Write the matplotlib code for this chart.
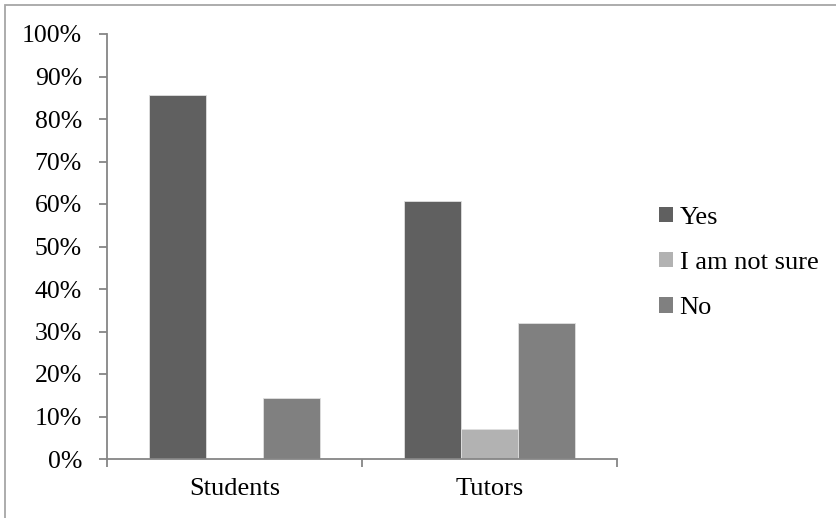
import matplotlib
matplotlib.use("Agg")
import matplotlib.pyplot as plt
import numpy as np
from matplotlib.patches import Rectangle

categories = ["Students", "Tutors"]
series_names = ["Yes", "I am not sure", "No"]
yes_vals = [0.857, 0.607]
notsure_vals = [0.0, 0.071]
no_vals = [0.143, 0.321]
colors = ["#606060", "#B2B2B2", "#808080"]
yticks = [0.0, 0.1, 0.2, 0.3, 0.4, 0.5, 0.6, 0.7, 0.8, 0.9, 1.0]

plt.rcParams['font.family'] = ['Liberation Serif', 'DejaVu Serif']

W, H = 836, 518
fig = plt.figure(figsize=(W / 100, H / 100), dpi=100)
ax = fig.add_axes([107 / W, 1 - 459 / H, (617 - 107) / W, (459 - 34) / H])

# outer border (left and top visible)
fig.patches.append(Rectangle((5 / W, -0.05), 1.1, 1 - 5 / H + 0.05, transform=fig.transFigure,
                             fill=False, edgecolor="#A6A6A6", linewidth=1.3))

x = np.arange(len(categories))
bw = 57 / 255
all_vals = [yes_vals, notsure_vals, no_vals]
for i, (vals, name, c) in enumerate(zip(all_vals, series_names, colors)):
    ax.bar(x + (i - 1) * bw, vals, width=bw, color=c, label=name,
           edgecolor="#E0E0E0", linewidth=0.6)

FS = 18.5
ax.set_xlim(-0.5, 1.5)
ax.set_ylim(0, 1.0)
ax.set_yticks(yticks)
ax.set_yticklabels([f"{int(round(t * 100))}%" for t in yticks], fontsize=FS)
ax.set_xticks(x)
ax.set_xticklabels(categories, fontsize=FS + 0.5)
ax.tick_params(axis='x', which='major', length=0, pad=14)
ax.set_xticks([-0.5, 0.5, 1.5], minor=True)
ax.tick_params(axis='x', which='minor', length=6, color="#868686", width=1.3)
ax.tick_params(axis='y', length=6, color="#868686", width=1.3, pad=12)

for s in ["top", "right"]:
    ax.spines[s].set_visible(False)
for s in ["left", "bottom"]:
    ax.spines[s].set_color("#868686")
    ax.spines[s].set_linewidth(1.3)

leg = fig.legend(*ax.get_legend_handles_labels(), loc="center left",
                 bbox_to_anchor=(659 / W, 1 - 263 / H), frameon=False,
                 fontsize=FS + 0.5, handlelength=0.53, handleheight=0.53,
                 handletextpad=0.25, labelspacing=0.88, borderpad=0,
                 borderaxespad=0)
for h in leg.legend_handles:
    h.set_edgecolor("none")

fig.savefig("out.png", dpi=100)
